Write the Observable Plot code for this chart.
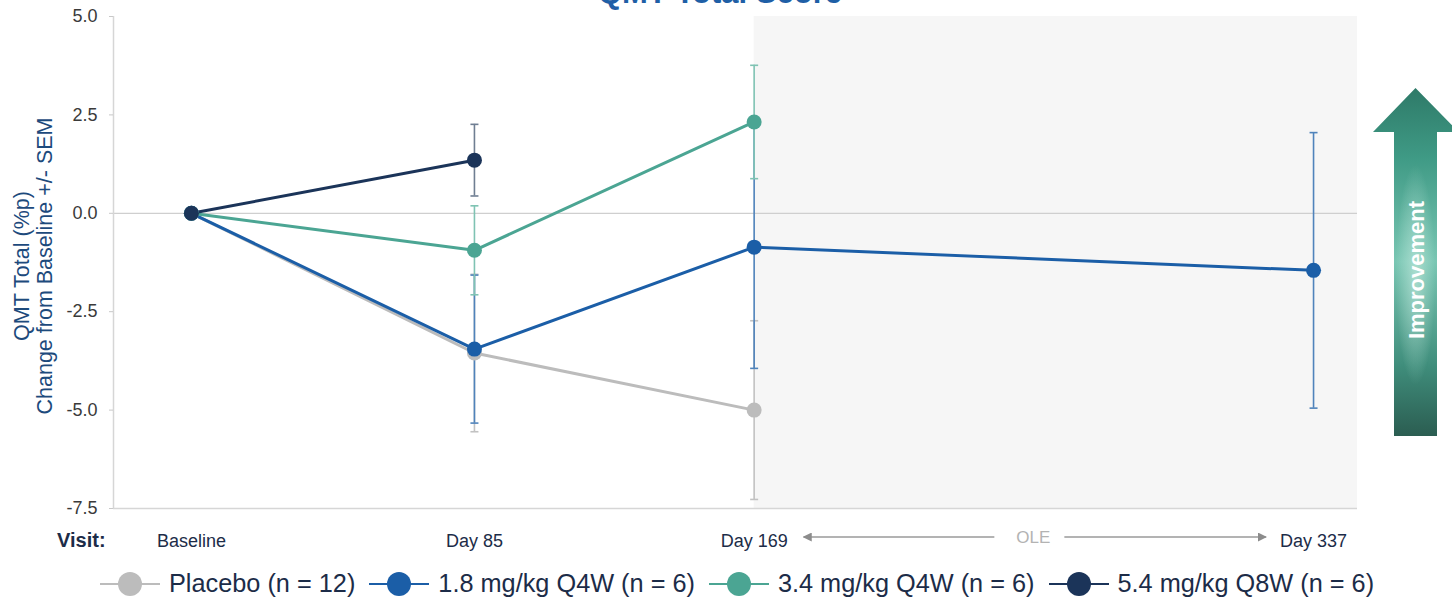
<!DOCTYPE html>
<html><head><meta charset="utf-8">
<script src="https://cdn.jsdelivr.net/npm/d3@7"></script>
<script src="https://cdn.jsdelivr.net/npm/@observablehq/plot@0.6"></script>
<style>
body{margin:0;background:#fff;font-family:"Liberation Sans",Arial,sans-serif;}
#wrap{position:relative;width:1452px;height:599px;overflow:hidden;background:#fff;}
#chart{position:absolute;left:0;top:0;}
#overlay{position:absolute;left:0;top:0;pointer-events:none;}
.legend{position:absolute;left:100px;top:569px;display:flex;align-items:center;font-size:25.3px;color:#1c2c48;white-space:nowrap;}
.legend .item{display:flex;align-items:center;}
.legend .item + .item{margin-left:14px;}
.legend svg{display:block;}
.legend span{margin-left:9px;}
</style></head><body>
<div id="wrap"><div id="chart"></div><svg id="overlay" width="1452" height="599"></svg><div class="legend" id="legend"></div></div>
<script>
// ---- data ----
const visitDays = [0, 85, 169, 337];
const visitLabels = ["Baseline", "Day 85", "Day 169", "Day 337"];
const seriesNames = ["Placebo (n = 12)", "1.8 mg/kg Q4W (n = 6)", "3.4 mg/kg Q4W (n = 6)", "5.4 mg/kg Q8W (n = 6)"];
const placeboMean = [0, -3.55, -5.0, null];
const placeboSem  = [0, 2.0, 2.27, null];
const dose18Mean  = [0, -3.45, -0.86, -1.45];
const dose18Sem   = [0, 1.88, 3.08, 3.5];
const dose34Mean  = [0, -0.94, 2.32, null];
const dose34Sem   = [0, 1.13, 1.44, null];
const dose54Mean  = [0, 1.35, null, null];
const dose54Sem   = [0, 0.91, null, null];
const yTicks = [-7.5, -5, -2.5, 0, 2.5, 5];
const yTitle = ["QMT Total (%p)", "Change from Baseline +/- SEM"];
const chartTitle = "QMT Total Score";
const oleLabel = "OLE";
const visitTitle = "Visit:";
const arrowLabel = "Improvement";

// ---- styles ----
const seriesColors = ["#bcbcbc", "#1b5ea7", "#4ba593", "#1b3459"];
const errColors = ["#c2c2c2", "#4f83bb", "#7fc3b3", "#6f7e92"];
const xDomain = [-23.4, 350.2];
const yDomain = [-7.5, 5];

const means = [placeboMean, dose18Mean, dose34Mean, dose54Mean];
const sems = [placeboSem, dose18Sem, dose34Sem, dose54Sem];
const rows = [];
seriesNames.forEach((s, i) => visitDays.forEach((d, j) => {
  if (means[i][j] != null) rows.push({series: s, idx: i, day: d, mean: means[i][j], sem: sems[i][j]});
}));
const bySeries = seriesNames.map((s, i) => rows.filter(r => r.idx === i));
const errBySeries = bySeries.map(a => a.filter(r => r.sem > 0));

const capSymbol = {draw(ctx) { ctx.moveTo(-4, 0); ctx.lineTo(4, 0); }};

const marks = [
  Plot.rect([{x1: visitDays[2], x2: xDomain[1], y1: yDomain[0], y2: yDomain[1]}], {x1: "x1", x2: "x2", y1: "y1", y2: "y2", fill: "#f6f6f6"}),
  Plot.ruleY([0], {stroke: "#cfcfcf", strokeWidth: 1.2}),
  Plot.ruleY([yDomain[0]], {stroke: "#d6d6d6", strokeWidth: 1.5}),
  Plot.ruleX([xDomain[0]], {stroke: "#d6d6d6", strokeWidth: 1.5}),
  Plot.axisY({ticks: yTicks, tickFormat: d => d.toFixed(1), tickSize: 4, tickPadding: 12, fontSize: 18, color: "#3a3a3a", label: null}),
  Plot.axisX({ticks: visitDays, tickFormat: d => visitLabels[visitDays.indexOf(d)], tickSize: 0, tickPadding: 26, fontSize: 18, color: "#1c2c48", label: null})
];
errBySeries.forEach((a, i) => {
  marks.push(Plot.ruleX(a, {x: "day", y1: d => d.mean - d.sem, y2: d => d.mean + d.sem, stroke: errColors[i], strokeWidth: 1.6}));
  marks.push(Plot.dot(a, {x: "day", y: d => d.mean - d.sem, symbol: capSymbol, stroke: errColors[i], strokeWidth: 1.6, fill: "none"}));
  marks.push(Plot.dot(a, {x: "day", y: d => d.mean + d.sem, symbol: capSymbol, stroke: errColors[i], strokeWidth: 1.6, fill: "none"}));
});
bySeries.forEach((a, i) => {
  marks.push(Plot.line(a, {x: "day", y: "mean", stroke: seriesColors[i], strokeWidth: 3}));
});
bySeries.forEach((a, i) => {
  marks.push(Plot.dot(a, {x: "day", y: "mean", r: 7.5, fill: seriesColors[i], stroke: "none"}));
});

const plot = Plot.plot({
  width: 1452, height: 560,
  marginLeft: 113, marginRight: 95, marginTop: 16, marginBottom: 52,
  x: {type: "linear", domain: xDomain},
  y: {domain: yDomain},
  style: {fontFamily: '"Liberation Sans", Arial, sans-serif', background: "transparent"},
  marks
});
d3.select(plot).selectAll('g[aria-label="y-axis tick"]').attr("stroke", "#c8c8c8");
document.getElementById("chart").appendChild(plot);

// ---- overlay annotations ----
const xs = plot.scale("x");
const ov = d3.select("#overlay");
// title (cut off at the top, as in the reference)
ov.append("text").attr("x", 720).attr("y", 3).attr("text-anchor", "middle")
  .attr("font-size", 31).attr("font-weight", "bold").attr("fill", "#1f5fa6").text(chartTitle);
// y title
const yt = ov.append("text").attr("transform", "translate(0,266) rotate(-90)").attr("text-anchor", "middle")
  .attr("font-size", 21.5).attr("fill", "#1d4a7c");
yt.append("tspan").attr("x", 0).attr("y", 29).text(yTitle[0]);
yt.append("tspan").attr("x", 0).attr("y", 52).text(yTitle[1]);
// Visit:
ov.append("text").attr("x", 57).attr("y", 547).attr("font-size", 20).attr("font-weight", "bold").attr("fill", "#1c2c48").text(visitTitle);
// OLE arrows
const x169 = xs.apply(visitDays[2]), x337 = xs.apply(visitDays[3]);
const xOle = (x169 + x337) / 2, ya = 537;
const defs = ov.append("defs");
defs.append("marker").attr("id", "ah").attr("viewBox", "0 0 10 10").attr("refX", 9).attr("refY", 5)
  .attr("markerWidth", 9).attr("markerHeight", 9).attr("markerUnits", "userSpaceOnUse").attr("orient", "auto-start-reverse")
  .append("path").attr("d", "M0,0L10,5L0,10z").attr("fill", "#8c8c8c");
ov.append("line").attr("x1", xOle - 39).attr("x2", x169 + 50).attr("y1", ya).attr("y2", ya)
  .attr("stroke", "#9a9a9a").attr("stroke-width", 1.6).attr("marker-end", "url(#ah)");
ov.append("line").attr("x1", xOle + 31).attr("x2", x337 - 47).attr("y1", ya).attr("y2", ya)
  .attr("stroke", "#9a9a9a").attr("stroke-width", 1.6).attr("marker-end", "url(#ah)");
ov.append("text").attr("x", xOle).attr("y", ya + 6).attr("text-anchor", "middle").attr("font-size", 17)
  .attr("fill", "#b3b3b3").text(oleLabel);
// Improvement arrow
const lg = defs.append("linearGradient").attr("id", "ag").attr("x1", 0).attr("y1", 0).attr("x2", 0).attr("y2", 1);
[[0, "#2e7a68"], [0.2, "#3f9a85"], [0.5, "#79c6b3"], [0.8, "#3f8d7b"], [1, "#2b5d51"]].forEach(([o, c]) =>
  lg.append("stop").attr("offset", o).attr("stop-color", c));
const rg = defs.append("radialGradient").attr("id", "rg").attr("cx", 0.5).attr("cy", 0.5).attr("r", 0.5);
rg.append("stop").attr("offset", 0).attr("stop-color", "#bfe8dc").attr("stop-opacity", 0.7);
rg.append("stop").attr("offset", 1).attr("stop-color", "#bfe8dc").attr("stop-opacity", 0);
const cx = 1415.5;
const arrowPath = `M${cx},88 L${cx + 43},132 L1437,132 L1437,436 L1394,436 L1394,132 L1373,132 Z`;
ov.append("path").attr("d", arrowPath).attr("fill", "url(#ag)");
ov.append("ellipse").attr("cx", cx).attr("cy", 275).attr("rx", 20).attr("ry", 110).attr("fill", "url(#rg)");
ov.append("text").attr("transform", `translate(${cx + 8},270) rotate(-90)`).attr("text-anchor", "middle")
  .attr("font-size", 22).attr("font-weight", "bold").attr("fill", "#ffffff").text(arrowLabel);

// ---- legend ----
const legend = d3.select("#legend");
seriesNames.forEach((s, i) => {
  const it = legend.append("div").attr("class", "item");
  const sv = it.append("svg").attr("width", 60).attr("height", 28);
  sv.append("line").attr("x1", 0).attr("x2", 60).attr("y1", 14).attr("y2", 14).attr("stroke", seriesColors[i]).attr("stroke-width", 2);
  sv.append("circle").attr("cx", 30).attr("cy", 14).attr("r", 12).attr("fill", seriesColors[i]);
  it.append("span").text(s);
});
</script>
</body></html>
